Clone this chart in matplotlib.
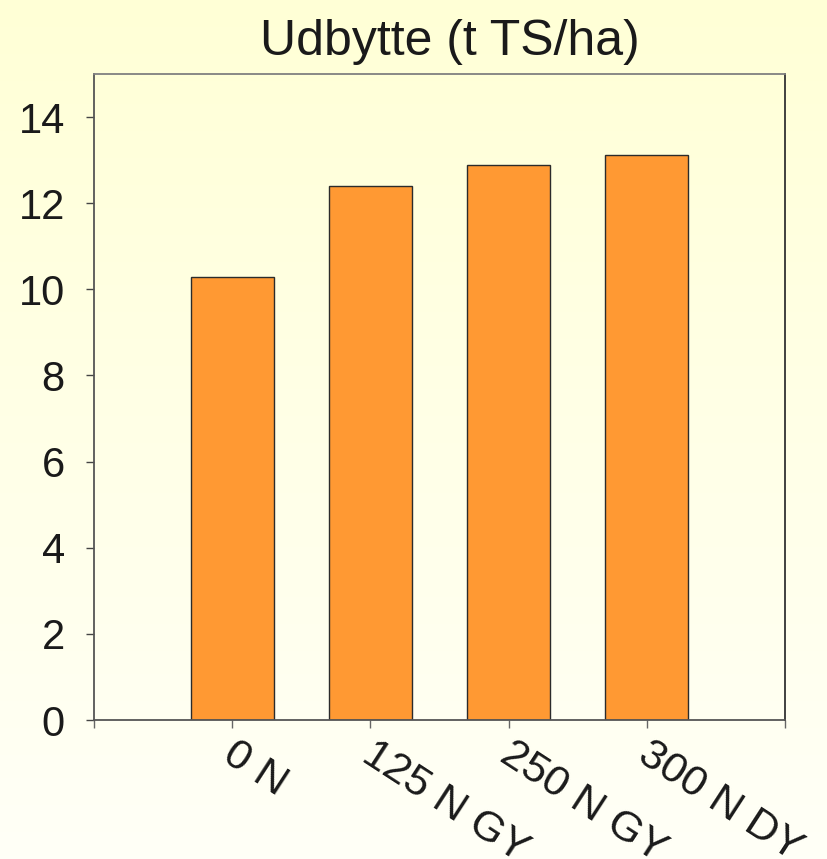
import numpy as np
import matplotlib
matplotlib.use("Agg")
import matplotlib.pyplot as plt
import matplotlib.transforms as mtransforms

# data
categories = ["0 N", "125 N GY", "250 N GY", "300 N DY"]
udbytte = [10.29, 12.40, 12.89, 13.12]

plt.rcParams['font.family'] = ['Liberation Sans', 'DejaVu Sans']

fig = plt.figure(figsize=(8.27, 8.59), dpi=100)

# light yellow background fading towards the bottom
bg = fig.add_axes([0, 0, 1, 1], zorder=-10)
grad = np.linspace(0, 1, 256).reshape(-1, 1)
top_col = np.array([255, 255, 214]) / 255.0
bot_col = np.array([255, 255, 247]) / 255.0
img = top_col[None, None, :] * (1 - grad[:, :, None]) + bot_col[None, None, :] * grad[:, :, None]
bg.imshow(img, aspect="auto", extent=[0, 1, 0, 1])
bg.axis("off")

ax = fig.add_axes([94 / 827, 1 - 720 / 859, (785 - 94) / 827, (720 - 74) / 859])
ax.set_facecolor("none")

x = np.arange(1, len(categories) + 1)
ax.bar(x, udbytte, width=0.6, color="#FF9933", edgecolor="#2b2b2b", linewidth=1.0)

ax.set_xlim(0, len(categories) + 1)
ax.set_ylim(0, 15)
ax.set_yticks(range(0, 15, 2))
ax.set_xticks(range(0, len(categories) + 2))
ax.set_xticklabels([""] + categories + [""])

ax.tick_params(axis="y", direction="out", length=6, width=1, color="#444444",
               labelsize=30, pad=15, labelcolor="#1a1a1a")
ax.tick_params(axis="x", direction="out", length=6, width=1, color="#666666",
               labelsize=31, pad=4, labelcolor="#1a1a1a")
shift = mtransforms.ScaledTranslation(6 / 100, 0, fig.dpi_scale_trans)
for lbl in ax.get_xticklabels():
    lbl.set_rotation(-33)
    lbl.set_rotation_mode("anchor")
    lbl.set_ha("left")
    lbl.set_va("top")
    lbl.set_transform(lbl.get_transform() + shift)

ax.spines["top"].set_color("#808080")
ax.spines["left"].set_color("#555555")
ax.spines["bottom"].set_color("#555555")
ax.spines["right"].set_color("#333333")
for s in ax.spines.values():
    s.set_linewidth(1.3)

ax.set_title("Udbytte (t TS/ha)", fontsize=36, color="#1a1a1a", pad=14, x=0.515)

fig.savefig("out.png", dpi=100)
